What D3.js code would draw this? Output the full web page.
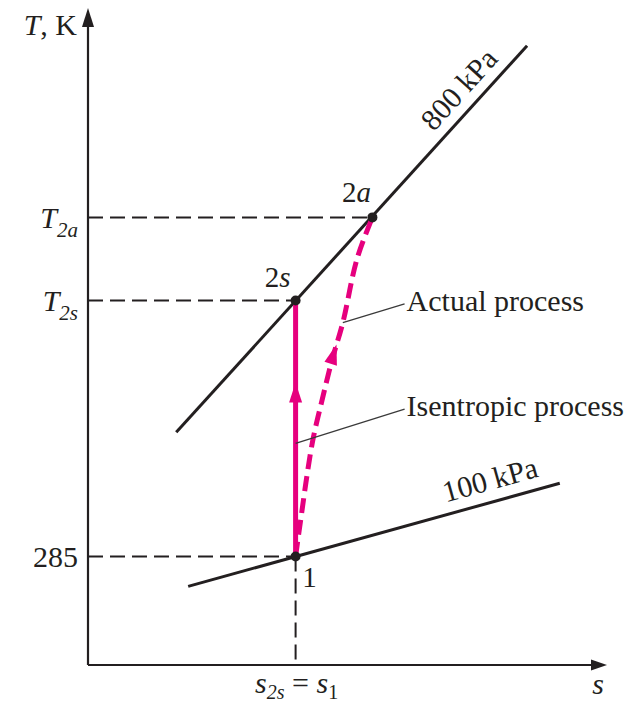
<!DOCTYPE html>
<html lang="en">
<head>
<meta charset="utf-8">
<script src="https://cdn.jsdelivr.net/npm/d3@7"></script>
<style>
  body { margin: 0; background: #fff; }
  text { font-family: "Liberation Serif", "Times New Roman", serif; fill: #231f20; }
</style>
</head>
<body>
<svg id="chart" width="637" height="706"></svg>
<script>
// states of the compressor process (s in arbitrary units, T in K)
var stateNames = ["1", "2s", "2a"];
var stateS = [4.0, 4.0, 5.48];
var stateT = [285, 516, 591];

// isobars, end points
var isobarNames = ["100 kPa", "800 kPa"];
var isobarS = [[1.93, 9.09], [1.70, 8.46]];
var isobarT = [[258, 351], [397, 746]];

// actual (irreversible) process path
var actualS = [4.0, 4.08, 4.32, 4.51, 4.70, 4.91, 5.18, 5.48];
var actualT = [285, 312, 387, 426, 462, 496, 553, 591];

// y tick labels: main text and subscript
var yTickValues = [285, 516, 591];
var yTickMain = ["285", "T", "T"];
var yTickSub = ["", "2s", "2a"];

var magenta = "#e6007e";
var ink = "#231f20";

var svg = d3.select("#chart");

var x = d3.scaleLinear().domain([0, 10]).range([88, 607]);
var y = d3.scaleLinear().domain([187, 780]).range([665, 8]);

var line = d3.line()
    .x(function(d) { return x(d[0]); })
    .y(function(d) { return y(d[1]); });

// dashed guide lines
var guides = svg.append("g")
    .attr("stroke", ink)
    .attr("stroke-width", 2)
    .attr("stroke-dasharray", "15,7")
    .attr("fill", "none");

// horizontal guides to the states
[0, 1, 2].forEach(function(i) {
  guides.append("line")
    .attr("x1", x(0)).attr("x2", x(stateS[i]))
    .attr("y1", y(stateT[i])).attr("y2", y(stateT[i]));
});
// vertical guide from state 1 down to the s axis
guides.append("line")
  .attr("x1", x(stateS[0])).attr("x2", x(stateS[0]))
  .attr("y1", y(stateT[0])).attr("y2", y(187));

// axes
var axes = svg.append("g");
axes.append("line")
  .attr("x1", x(0)).attr("x2", x(0))
  .attr("y1", y(187)).attr("y2", y(780) + 8)
  .attr("stroke", ink).attr("stroke-width", 2.2);
axes.append("line")
  .attr("x1", x(0)).attr("x2", x(10) - 8)
  .attr("y1", y(187)).attr("y2", y(187))
  .attr("stroke", ink).attr("stroke-width", 2.2);
axes.append("path")
  .attr("d", "M" + x(0) + "," + y(780) + " l-6,19 l12,0 Z")
  .attr("fill", ink);
axes.append("path")
  .attr("d", "M" + x(10) + "," + y(187) + " l-16,-5.5 l0,11 Z")
  .attr("fill", ink);

// axis titles
var tk = svg.append("text")
  .attr("x", 77).attr("y", 35)
  .attr("text-anchor", "end")
  .style("font-size", "30px");
tk.append("tspan").style("font-style", "italic").text("T");
tk.append("tspan").text(", K");

svg.append("text")
  .attr("x", 598).attr("y", 694)
  .attr("text-anchor", "middle")
  .style("font-size", "30px")
  .style("font-style", "italic")
  .text("s");

var sl = svg.append("text")
  .attr("x", x(stateS[0]) + 1).attr("y", 693)
  .attr("text-anchor", "middle")
  .style("font-size", "30px");
sl.append("tspan").style("font-style", "italic").text("s");
sl.append("tspan").attr("dy", 6).style("font-size", "20px").style("font-style", "italic").text("2s");
sl.append("tspan").attr("dy", -6).text(" = ");
sl.append("tspan").style("font-style", "italic").text("s");
sl.append("tspan").attr("dy", 6).style("font-size", "20px").text("1");

// y tick labels
yTickValues.forEach(function(v, i) {
  var t = svg.append("text")
    .attr("x", 78).attr("y", y(v) + 11)
    .attr("text-anchor", "end")
    .style("font-size", "30px");
  if (yTickSub[i] === "") {
    t.text(yTickMain[i]);
  } else {
    t.append("tspan").style("font-style", "italic").text(yTickMain[i]);
    t.append("tspan").attr("dy", 9).style("font-size", "21px")
      .style("font-style", "italic").text(yTickSub[i]);
  }
});

// isobars
isobarNames.forEach(function(name, i) {
  var pts = [[isobarS[i][0], isobarT[i][0]], [isobarS[i][1], isobarT[i][1]]];
  svg.append("path")
    .attr("d", line(pts))
    .attr("stroke", ink)
    .attr("stroke-width", 3)
    .attr("fill", "none");
});

// isobar labels along the lines
var isoLabelS = [7.86, 7.45];
var isoLabelOff = [12, 11];
isobarNames.forEach(function(name, i) {
  var x0 = x(isobarS[i][0]), y0 = y(isobarT[i][0]);
  var x1 = x(isobarS[i][1]), y1 = y(isobarT[i][1]);
  var ang = Math.atan2(y1 - y0, x1 - x0);
  var f = (isoLabelS[i] - isobarS[i][0]) / (isobarS[i][1] - isobarS[i][0]);
  var px = x0 + f * (x1 - x0) + isoLabelOff[i] * Math.sin(ang);
  var py = y0 + f * (y1 - y0) - isoLabelOff[i] * Math.cos(ang);
  svg.append("text")
    .attr("transform", "translate(" + px + "," + py + ") rotate(" + (ang * 180 / Math.PI) + ")")
    .attr("text-anchor", "middle")
    .style("font-size", "30px")
    .text(name);
});

// isentropic process (solid)
svg.append("path")
  .attr("d", line([[stateS[0], stateT[0]], [stateS[1], stateT[1]]]))
  .attr("stroke", magenta)
  .attr("stroke-width", 5)
  .attr("fill", "none");

// actual process (dashed curve)
var actualPts = actualS.map(function(s, i) { return [s, actualT[i]]; });
var actualPath = svg.append("path")
  .attr("d", d3.line()
      .x(function(d) { return x(d[0]); })
      .y(function(d) { return y(d[1]); })
      .curve(d3.curveCatmullRom.alpha(0.5))(actualPts))
  .attr("stroke", magenta)
  .attr("stroke-width", 5)
  .attr("stroke-dasharray", "15,7")
  .attr("fill", "none");

function arrowHead(px, py, ang) {
  svg.append("path")
    .attr("d", "M0,0 L-20,-6.5 L-20,6.5 Z")
    .attr("transform", "translate(" + px + "," + py + ") rotate(" + ang + ")")
    .attr("fill", magenta);
}

// arrow on isentropic line
arrowHead(x(stateS[0]), y(442), -90);

// arrow on actual path: find point at T = 476
(function() {
  var node = actualPath.node();
  var L = node.getTotalLength();
  var target = y(476), best = 0, bestD = 1e9;
  for (var l = 0; l <= L; l += 0.5) {
    var p = node.getPointAtLength(l);
    var d = Math.abs(p.y - target);
    if (d < bestD) { bestD = d; best = l; }
  }
  var p0 = node.getPointAtLength(Math.max(0, best - 2));
  var p1 = node.getPointAtLength(Math.min(L, best + 2));
  var pt = node.getPointAtLength(best);
  var ang = Math.atan2(p1.y - p0.y, p1.x - p0.x) * 180 / Math.PI;
  arrowHead(pt.x, pt.y, ang);
})();

// state points
svg.append("g").selectAll("circle")
  .data(stateNames)
  .join("circle")
  .attr("cx", function(d, i) { return x(stateS[i]); })
  .attr("cy", function(d, i) { return y(stateT[i]); })
  .attr("r", 5)
  .attr("fill", ink);

// state labels
var stateLabelDx = [14, -18, -16];
var stateLabelDy = [31, -13, -15];
stateNames.forEach(function(name, i) {
  var t = svg.append("text")
    .attr("x", x(stateS[i]) + stateLabelDx[i])
    .attr("y", y(stateT[i]) + stateLabelDy[i])
    .attr("text-anchor", "middle")
    .style("font-size", "29px");
  if (name.length > 1) {
    t.append("tspan").text(name[0]);
    t.append("tspan").style("font-style", "italic").text(name.slice(1));
  } else {
    t.text(name);
  }
});

// annotations with leader lines
var noteText = ["Actual process", "Isentropic process"];
var noteFromS = [4.91, 4.0];
var noteFromT = [496, 387];
var noteToS = [6.1, 6.1];
var noteToT = [513, 418];
noteText.forEach(function(txt, i) {
  svg.append("line")
    .attr("x1", x(noteFromS[i])).attr("y1", y(noteFromT[i]))
    .attr("x2", x(noteToS[i])).attr("y2", y(noteToT[i]))
    .attr("stroke", "#3a3a3a")
    .attr("stroke-width", 1.3);
  svg.append("text")
    .attr("x", x(noteToS[i]) + 2)
    .attr("y", y(noteToT[i]) + 7)
    .style("font-size", "30px")
    .text(txt);
});
</script>
</body>
</html>
